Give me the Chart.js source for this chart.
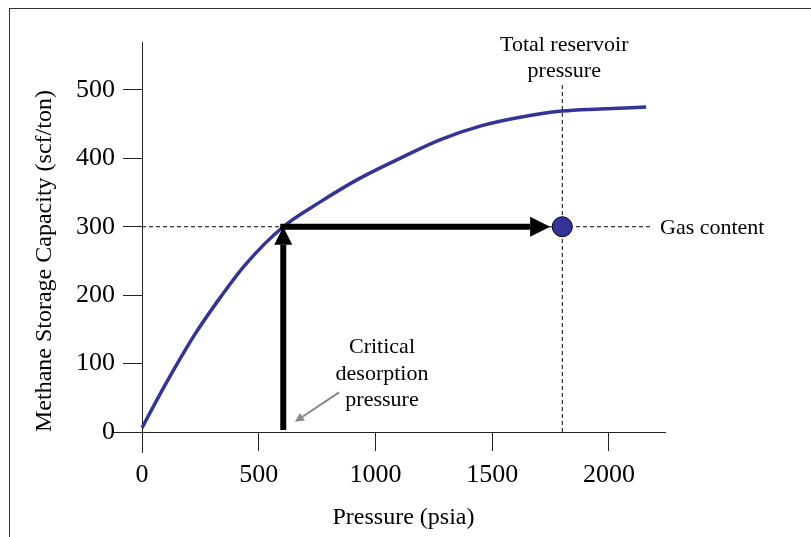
<!DOCTYPE html>
<html>
<head>
<meta charset="utf-8">
<script src="https://cdn.jsdelivr.net/npm/chart.js@4.4.0/dist/chart.umd.min.js"></script>
<style>
html, body { margin: 0; padding: 0; background: #fff; }
#wrap { position: relative; width: 811px; height: 537px; overflow: hidden; }
#chart { position: absolute; left: 0; top: 0; }
#frame { position: absolute; left: 9px; top: 8px; right: 0; bottom: 0; border-left: 1px solid #333; border-top: 1px solid #333; pointer-events: none; }
</style>
</head>
<body>
<div id="wrap">
    <canvas id="chart" width="811" height="537"></canvas>
    <div id="frame"></div>
</div>
<script>
// methane storage curve (isotherm)
const pressure = [0, 64, 141, 227, 334, 441, 605, 762, 934, 1105, 1276, 1448, 1619, 1800, 1962, 2159];
const capacity = [6, 47, 94, 143, 196, 244, 300, 336, 371, 400, 427, 447, 460, 469, 472, 475];

const xTicks = [0, 500, 1000, 1500, 2000];
const yTicks = [0, 100, 200, 300, 400, 500];

const gasContent = 300;
const criticalPressure = 605;
const reservoirPressure = 1800;
const arrowTip = 1748;
const gasLineEnd = 2184;
const reservoirLineTop = 511;
const pointerFrom = [844, 58];
const pointerTo = [655, 15];

const serif = "'Liberation Serif', 'Times New Roman', serif";
const blue = '#333399';
const axisColor = '#222';

function drawArrow(ctx, x1, y1, x2, y2, width, headLen, headWidth, color) {
    const ang = Math.atan2(y2 - y1, x2 - x1);
    const bx = x2 - headLen * Math.cos(ang);
    const by = y2 - headLen * Math.sin(ang);
    ctx.strokeStyle = color;
    ctx.fillStyle = color;
    ctx.lineWidth = width;
    ctx.lineCap = 'butt';
    ctx.beginPath();
    ctx.moveTo(x1, y1);
    ctx.lineTo(bx, by);
    ctx.stroke();
    ctx.beginPath();
    ctx.moveTo(x2, y2);
    ctx.lineTo(bx + headWidth / 2 * Math.sin(ang), by - headWidth / 2 * Math.cos(ang));
    ctx.lineTo(bx - headWidth / 2 * Math.sin(ang), by + headWidth / 2 * Math.cos(ang));
    ctx.closePath();
    ctx.fill();
}

const annotations = {
    id: 'annotations',
    afterDatasetsDraw(chart) {
        const { ctx, chartArea, scales: { x, y } } = chart;
        const px = v => x.getPixelForValue(v);
        const py = v => y.getPixelForValue(v);
        ctx.save();

        // axis lines run a little past the origin
        ctx.strokeStyle = axisColor;
        ctx.lineWidth = 1;
        ctx.beginPath();
        ctx.moveTo(chartArea.left - 29, Math.round(py(0)) + 0.5);
        ctx.lineTo(chartArea.left, Math.round(py(0)) + 0.5);
        ctx.moveTo(Math.round(px(0)) + 0.5, chartArea.bottom);
        ctx.lineTo(Math.round(px(0)) + 0.5, chartArea.bottom + 21);
        ctx.stroke();

        // arrows
        drawArrow(ctx, px(criticalPressure), py(0) - 2, px(criticalPressure), py(gasContent), 6, 18, 18, '#000');
        drawArrow(ctx, px(criticalPressure) - 3, py(gasContent), px(arrowTip), py(gasContent), 6, 20, 20, '#000');
        drawArrow(ctx, px(pointerFrom[0]), py(pointerFrom[1]), px(pointerTo[0]), py(pointerTo[1]), 2, 9, 9, '#888');

        // labels
        ctx.fillStyle = '#000';
        ctx.font = '22px ' + serif;
        ctx.textAlign = 'center';
        ctx.textBaseline = 'middle';
        ctx.fillText('Total reservoir', px(reservoirPressure) + 2, 45);
        ctx.fillText('pressure', px(reservoirPressure) + 2, 71);
        ctx.fillText('Critical', 382, 347);
        ctx.fillText('desorption', 382, 374);
        ctx.fillText('pressure', 382, 400);
        ctx.textAlign = 'left';
        ctx.fillText('Gas content', 660, py(gasContent) + 1);
        ctx.restore();
    }
};

new Chart(document.getElementById('chart'), {
    type: 'line',
    data: {
        datasets: [
            {
                label: 'Reservoir point',
                data: [{ x: reservoirPressure, y: gasContent }],
                showLine: false,
                pointRadius: 10,
                pointBackgroundColor: blue,
                pointBorderColor: '#000',
                pointBorderWidth: 1
            },
            {
                label: 'Storage capacity',
                data: pressure.map((p, i) => ({ x: p, y: capacity[i] })),
                borderColor: blue,
                borderWidth: 3.5,
                pointRadius: 0,
                cubicInterpolationMode: 'monotone',
                clip: false
            },
            {
                label: 'Gas content',
                data: [{ x: 0, y: gasContent }, { x: gasLineEnd, y: gasContent }],
                borderColor: '#000',
                borderWidth: 1,
                borderDash: [4, 3],
                pointRadius: 0
            },
            {
                label: 'Total reservoir pressure',
                data: [{ x: reservoirPressure, y: 0 }, { x: reservoirPressure, y: reservoirLineTop }],
                borderColor: '#000',
                borderWidth: 1,
                borderDash: [4, 3],
                pointRadius: 0
            }
        ]
    },
    options: {
        responsive: false,
        devicePixelRatio: 1,
        animation: false,
        layout: { padding: { left: 0, top: 42, right: 146, bottom: 0 } },
        plugins: {
            legend: { display: false },
            tooltip: { enabled: false }
        },
        scales: {
            x: {
                type: 'linear',
                min: 0,
                max: 2240,
                afterBuildTicks: scale => { scale.ticks = xTicks.map(v => ({ value: v })); },
                afterFit: scale => { scale.height = 105; },
                grid: { drawOnChartArea: false, drawTicks: true, tickLength: 19, color: axisColor },
                border: { display: true, color: axisColor, width: 1 },
                ticks: {
                    color: '#000',
                    padding: 9,
                    maxRotation: 0,
                    font: { family: serif, size: 26 },
                    callback: v => String(v)
                },
                title: {
                    display: true,
                    text: 'Pressure (psia)',
                    color: '#000',
                    font: { family: serif, size: 24 },
                    padding: { top: 0, bottom: 5 }
                }
            },
            y: {
                type: 'linear',
                min: 0,
                max: 570,
                afterBuildTicks: scale => { scale.ticks = yTicks.map(v => ({ value: v })); },
                afterFit: scale => { scale.width = 142; },
                grid: { drawOnChartArea: false, drawTicks: true, tickLength: 19, color: axisColor },
                border: { display: true, color: axisColor, width: 1 },
                ticks: {
                    color: '#000',
                    padding: 8,
                    font: { family: serif, size: 26 },
                    callback: v => String(v)
                },
                title: {
                    display: true,
                    text: 'Methane Storage Capacity (scf/ton)',
                    color: '#000',
                    align: 'start',
                    font: { family: serif, size: 24 },
                    padding: { top: 30, bottom: 0 }
                }
            }
        }
    },
    plugins: [annotations]
});
</script>
</body>
</html>
